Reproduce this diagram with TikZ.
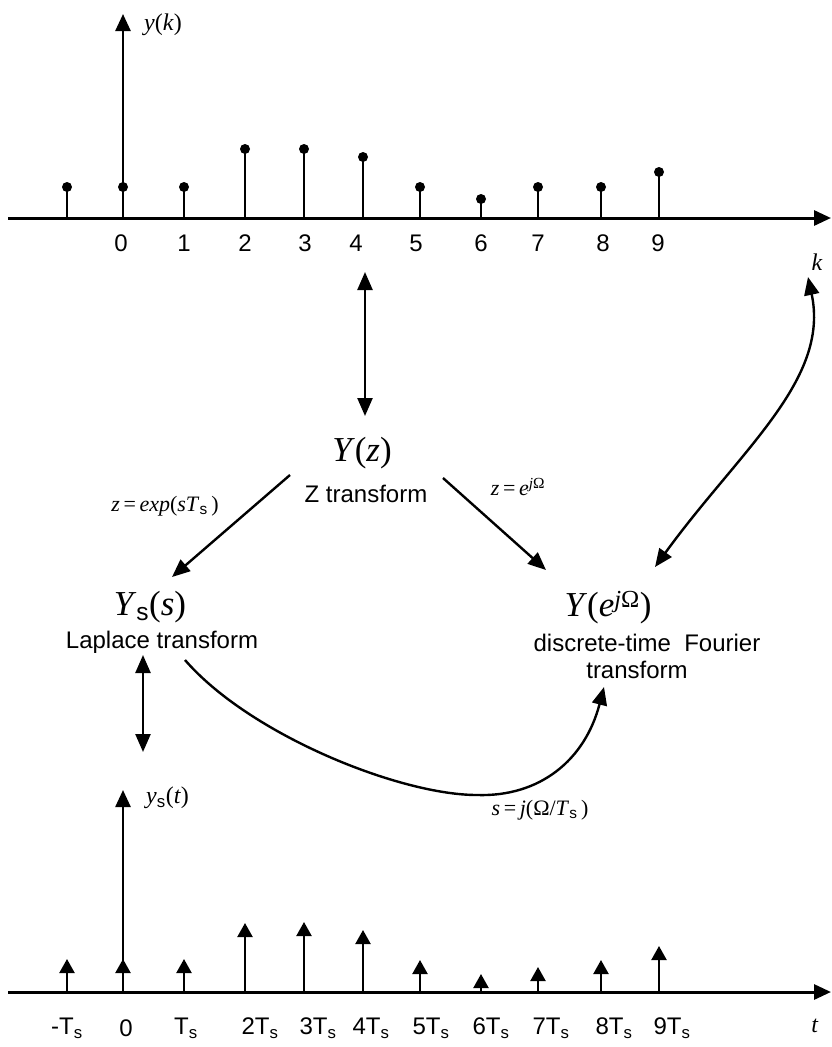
\documentclass[tikz,border=0pt]{standalone}
\usepackage{fontspec}
\setmainfont{Liberation Serif}
\newfontfamily\lblsans{Liberation Sans}
\usepackage{tikz}
\usetikzlibrary{arrows.meta}

\tikzset{
  axisline/.style={line width=3pt, -{Triangle[length=17pt,width=15pt]}},
  stemline/.style={line width=1.1pt},
  impulse/.style={line width=2.2pt, -{Triangle[length=14pt,width=15pt]}},
  linkarrow/.style={line width=2.4pt, -{Triangle[length=18pt,width=15pt]}},
  dblarrow/.style={line width=2.4pt, {Triangle[length=18pt,width=15pt]}-{Triangle[length=18pt,width=15pt]}},
  sanslbl/.style={font=\lblsans\fontsize{24}{28}\selectfont, inner sep=0pt},
  mathlbl/.style={font=\fontsize{24}{28}\selectfont, inner sep=0pt},
  smalllbl/.style={font=\fontsize{22}{26}\selectfont, inner sep=0pt},
  biglbl/.style={font=\fontsize{35}{40}\selectfont, inner sep=0pt},
}
\newcommand{\subsans}{\textsubscript{\lblsans s}}

\begin{document}
\begin{tikzpicture}[x=1pt,y=-1pt]
  \useasboundingbox (0,0) rectangle (831,1047);

  % --- sequence y(k) ---
  \draw[axisline] (8,218) -- (831,218);
  \draw[axisline, line width=2.5pt] (123,218) -- (123,14);
  \node[mathlbl, anchor=west] (yk) at (144,25) {\textit{y}(\textit{k})};
  \foreach \x/\v in {67/187, 123/187, 184/187, 245/149, 304/149, 363/157,
                     420/187, 481/199, 538/187, 601/187, 659/172} {
    \draw[stemline] (\x,218) -- (\x,\v);
    \fill (\x,\v) circle (5);
  }
  \foreach \x/\l in {121/0, 184/1, 245/2, 305/3, 356/4, 416/5, 481/6, 538/7, 603/8, 658/9}
    \node[sanslbl] at (\x,243) {\l};
  \node[mathlbl] (k) at (817,262) {\textit{k}};

  % --- transforms ---
  \node[biglbl] (Yz) at (362,453) {\textit{Y}(\textit{z})};
  \node[sanslbl] (Zt) at (366,494) {Z transform};
  \node[biglbl] (Ys) at (150,607) {\textit{Y}\subsans(\textit{s})};
  \node[sanslbl] (Lt) at (162,642) {Laplace transform};
  \node[biglbl] (Yw) at (608,608) {\textit{Y}(\textit{e}\textsuperscript{\textit{j}Ω})};
  \node[sanslbl] (Dt) at (647,643) {discrete-time\ \ Fourier};
  \node[sanslbl] (Tf) at (637,670) {transform};

  \node[smalllbl] (lexp) at (165,506) {\textit{z}\,=\,\textit{exp}(\textit{sT}\subsans\,)};
  \node[smalllbl] (lejw) at (518,487) {\textit{z}\,=\,\textit{e}\textsuperscript{\textit{j}Ω}};
  \node[smalllbl] (lsj) at (540,810) {\textit{s}\,=\,\textit{j}(Ω/\textit{T}\subsans\,)};

  % connector ends
  \coordinate (kAxis) at (365,272);
  \coordinate (zIn)   at (365,416);
  \coordinate (zLeft) at (290,475);
  \coordinate (sIn)   at (172,577);
  \coordinate (zRight) at (443,478);
  \coordinate (wIn)   at (546,570);
  \coordinate (kEnd)  at (808,277);
  \coordinate (wSide) at (655,567);
  \coordinate (sUp)   at (143,655);
  \coordinate (tDown) at (143,752);
  \coordinate (sOut)  at (185,660);
  \coordinate (wLow)  at (604,687);

  \draw[dblarrow] (kAxis) -- (zIn);
  \draw[linkarrow] (zLeft) -- (sIn);
  \draw[linkarrow] (zRight) -- (wIn);
  \draw[dblarrow] (wSide) .. controls (740,450) and (830,380) .. (kEnd);
  \draw[dblarrow] (sUp) -- (tDown);
  \draw[linkarrow] (sOut) .. controls (250,735) and (400,795) .. (477,795)
                          .. controls (540,797) and (585,760) .. (wLow);

  % --- sampled signal y_s(t) ---
  \draw[axisline] (8,992) -- (831,992);
  \draw[axisline, line width=2.5pt] (123,992) -- (123,790);
  \node[mathlbl, anchor=west] (yst) at (146,798) {\textit{y}\subsans(\textit{t})};
  \foreach \x/\v in {67/959, 123/959, 184/959, 245/923, 304/922, 363/930,
                     420/960, 481/974, 538/967, 601/960, 659/946}
    \draw[impulse] (\x,992) -- (\x,\v);
  \foreach \x/\l in {67/-T\subsans, 126/0, 186/T\subsans, 260/2T\subsans, 318/3T\subsans,
                     371/4T\subsans, 431/5T\subsans, 491/6T\subsans, 551/7T\subsans,
                     614/8T\subsans, 672/9T\subsans}
    \node[sanslbl] at (\x,1028) {\l};
  \node[mathlbl] (t) at (815,1026) {\textit{t}};
\end{tikzpicture}
\end{document}
